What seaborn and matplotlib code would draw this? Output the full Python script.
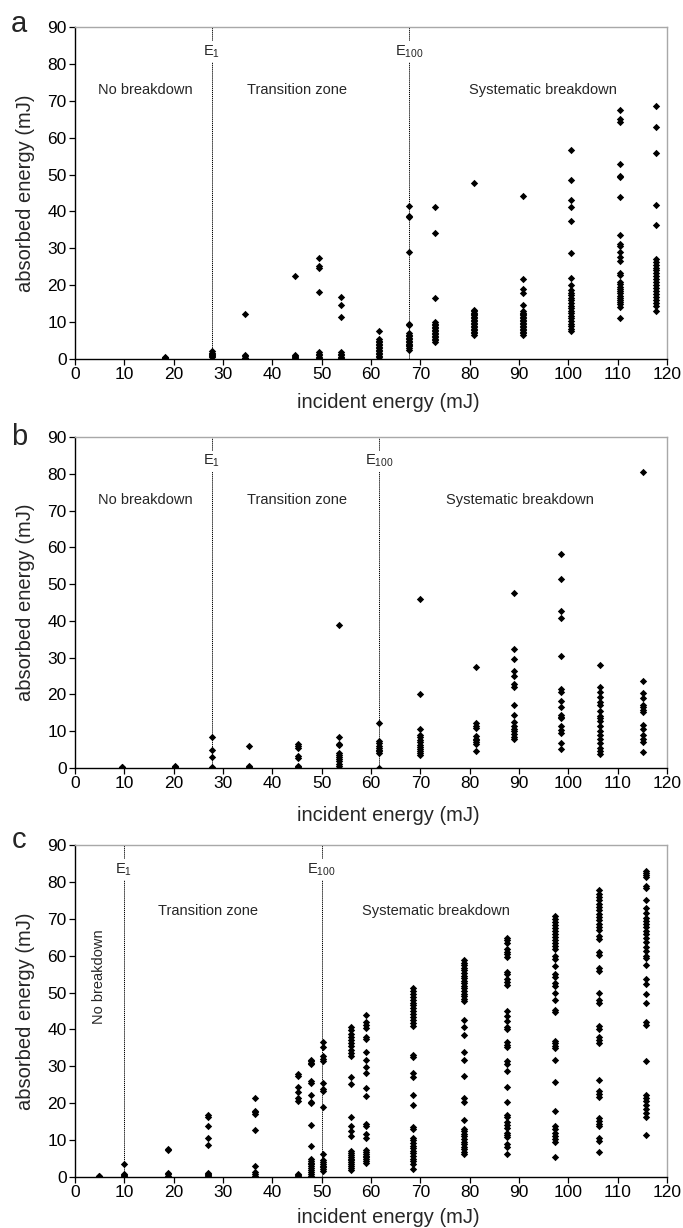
import matplotlib
matplotlib.use("Agg")
import matplotlib.pyplot as plt
import pandas as pd
import seaborn as sns

# ---------------- data ----------------
# Panel a
A_X = [18.3, 27.7, 34.5, 44.5, 49.5, 54.0, 61.7, 67.7, 73.0, 80.8, 90.8, 100.6, 110.4, 117.8]
A_Y = [
    [0.0, 0.2, 0.4, 0.6, 0.3],
    [0.5, 0.7, 1.0, 1.3, 1.7, 2.1],
    [12.2, 1.0, 0.7, 0.4, 0.2, 0.0],
    [22.4, 1.2, 0.9, 0.6, 0.3, 0.1],
    [27.3, 25.3, 24.6, 18.2, 1.8, 1.4, 1.0, 0.6, 0.3, 0.0],
    [16.9, 14.6, 11.3, 1.8, 1.4, 1.0, 0.6, 0.3, 0.0],
    [7.5, 5.3, 4.9, 4.5, 4.1, 3.7, 3.3, 2.9, 2.5, 2.1, 1.7, 1.3, 0.9, 0.5, 0.1],
    [41.5, 38.9, 38.5, 29.0, 9.6, 9.1, 7.0, 6.6, 6.2, 5.8, 5.4, 5.0, 4.6, 4.2, 3.8, 3.4, 3.0, 2.5],
    [41.2, 34.1, 16.6, 9.9, 9.5, 9.1, 8.7, 8.3, 7.9, 7.5, 7.1, 6.7, 6.3, 5.9, 5.5, 5.1, 4.7],
    [47.6, 13.4, 13.0, 12.6, 12.2, 11.8, 11.4, 11.0, 10.6, 10.2, 9.8, 9.4, 9.0, 8.6, 8.2, 7.8, 7.4, 7.0, 6.6],
    [44.3, 21.8, 18.9, 17.9, 14.6, 13.0, 12.6, 12.2, 11.8, 11.4, 11.0, 10.6, 10.2, 9.8, 9.4, 9.0, 8.6, 8.2,
     7.8, 7.4, 7.0, 6.6],
    [56.6, 48.5, 43.0, 41.2, 37.4, 28.7, 21.9, 20.0, 18.7, 18.0, 17.3, 16.6, 15.9, 15.2, 14.5, 13.8, 13.1,
     12.4, 11.7, 11.0, 10.3, 9.6, 8.9, 8.2, 7.6],
    [67.6, 65.0, 64.2, 52.9, 49.6, 49.3, 44.0, 33.7, 31.3, 30.6, 29.0, 27.6, 26.6, 23.2, 22.8, 20.8, 20.2,
     19.6, 19.0, 18.4, 17.8, 17.2, 16.6, 16.0, 15.4, 14.8, 14.2, 11.2],
    [68.7, 63.0, 55.8, 41.8, 36.4, 27.0, 26.4, 25.6, 24.8, 24.0, 23.2, 22.4, 21.6, 20.8, 20.0, 19.2, 18.4,
     17.6, 16.8, 16.0, 15.2, 14.4, 13.0],
]

# Panel b
B_X = [9.5, 20.3, 27.7, 35.2, 45.2, 53.6, 61.7, 70.0, 81.3, 89.0, 98.5, 106.5, 115.1]
B_Y = [
    [0.0, 0.2, 0.4],
    [0.0, 0.2, 0.4, 0.6],
    [8.3, 4.8, 3.1, 0.2, 0.0],
    [5.9, 0.6, 0.3, 0.1, 0.0],
    [6.6, 6.0, 5.4, 3.3, 2.6, 0.5, 0.2, 0.0],
    [38.8, 8.4, 6.5, 6.2, 4.0, 3.5, 3.0, 2.5, 2.0, 1.0, 0.5, 0.0],
    [12.1, 7.4, 6.8, 6.0, 5.5, 5.0, 4.5, 4.0, 0.0],
    [45.9, 20.2, 10.7, 9.0, 8.5, 7.7, 7.0, 6.3, 5.7, 5.2, 4.6, 4.0, 3.4],
    [27.5, 12.3, 11.5, 10.9, 8.7, 8.0, 7.5, 7.0, 6.5, 4.7],
    [47.5, 32.3, 29.6, 26.4, 25.0, 22.8, 22.0, 17.0, 14.3, 12.4, 11.5, 10.5, 10.0, 9.2, 8.5, 7.8],
    [58.1, 51.4, 42.8, 40.8, 30.4, 21.5, 20.7, 18.3, 16.5, 14.5, 14.0, 13.5, 11.5, 10.2, 9.5, 6.8, 5.2],
    [27.9, 22.0, 20.6, 19.4, 18.0, 17.2, 15.4, 14.2, 13.5, 12.8, 11.3, 10.0, 9.0, 8.0, 6.8, 5.5, 4.5, 3.8],
    [80.5, 23.7, 20.4, 19.0, 17.0, 16.5, 15.8, 15.2, 11.8, 10.5, 9.0, 8.0, 7.0, 4.3],
]

# Panel c
C_X = [4.8, 9.9, 18.9, 26.9, 36.5, 45.2, 47.8, 50.2, 56.0, 59.0, 68.6, 78.9, 87.5, 97.2, 106.3, 115.7]
C_Y = [
    [0.0, 0.2, 0.4],
    [3.5, 0.9, 0.6, 0.3, 0.0],
    [7.6, 7.2, 1.0, 0.7, 0.4, 0.1],
    [16.7, 16.3, 13.9, 10.6, 8.7, 1.1, 0.8, 0.5, 0.2],
    [21.4, 18.0, 17.6, 17.1, 12.7, 2.9, 1.3, 0.8, 0.4, 0.1],
    [27.8, 27.3, 24.3, 23.0, 21.4, 20.6, 0.9, 0.5, 0.2],
    [31.8, 31.4, 31.0, 30.6, 26.1, 25.5, 22.2, 20.3, 20.0, 14.2, 8.4, 4.9, 4.4, 3.9, 3.4, 2.9, 2.4, 1.9,
     1.4, 0.9, 0.4, 0.0],
    [36.7, 35.3, 32.7, 32.1, 31.5, 25.4, 23.9, 23.3, 19.0, 6.1, 4.6, 4.1, 3.6, 3.1, 2.6, 2.1, 1.6],
    [40.7, 39.8, 38.9, 38.0, 37.1, 36.2, 35.4, 34.5, 33.6, 32.7, 27.0, 25.1, 16.4, 13.8, 12.6, 11.0, 7.0,
     6.5, 6.0, 5.5, 5.0, 4.5, 4.0, 3.5, 3.0, 2.5, 2.0],
    [43.8, 42.1, 41.3, 40.5, 37.9, 37.4, 33.9, 31.6, 29.8, 28.2, 24.2, 22.0, 14.3, 13.8, 11.7, 10.5, 7.3,
     6.8, 6.3, 5.8, 5.3, 4.8, 4.3, 3.8],
    [51.3, 50.5, 49.7, 48.9, 48.1, 47.3, 46.5, 45.7, 44.9, 44.1, 43.3, 42.5, 41.7, 40.9, 33.0, 32.4, 28.2,
     27.2, 22.1, 19.5, 13.5, 13.0, 10.6, 9.9, 9.2, 8.5, 7.8, 7.1, 6.4, 5.7, 5.0, 4.3, 3.6, 2.2],
    [58.8, 58.1, 57.4, 56.7, 56.0, 55.3, 54.6, 53.9, 53.2, 52.5, 51.8, 51.1, 50.4, 49.7, 49.0, 48.3, 47.6,
     42.5, 40.6, 38.6, 33.8, 31.6, 27.3, 21.4, 20.4, 15.5, 13.1, 12.4, 11.7, 11.0, 10.3, 9.6, 8.9, 8.2,
     7.5, 6.8, 6.1],
    [64.9, 64.2, 63.5, 61.8, 61.1, 60.4, 59.7, 55.6, 55.0, 53.6, 52.8, 52.1, 44.9, 43.7, 42.4, 40.6, 40.0,
     36.5, 35.9, 35.3, 31.5, 30.6, 28.8, 24.3, 20.3, 16.9, 16.3, 14.8, 14.2, 13.4, 12.0, 11.4, 10.8, 9.0,
     8.2, 6.2],
    [70.7, 69.9, 69.1, 68.3, 67.5, 66.7, 65.9, 65.1, 64.3, 63.5, 62.7, 61.9, 59.8, 59.2, 57.2, 55.0, 54.3,
     52.6, 51.8, 49.8, 48.1, 45.3, 44.6, 37.0, 36.3, 35.6, 34.9, 31.6, 25.7, 17.8, 13.9, 13.1, 12.0, 11.2,
     10.4, 9.6, 5.4],
    [77.7, 76.8, 75.9, 75.0, 74.1, 73.2, 72.3, 71.4, 70.5, 69.6, 68.7, 67.8, 66.9, 65.2, 64.5, 61.0, 60.3,
     56.7, 55.8, 49.8, 48.0, 47.3, 41.0, 40.2, 38.0, 37.1, 36.2, 26.3, 23.3, 22.5, 21.8, 16.0, 15.2, 14.5,
     13.7, 10.5, 9.7, 6.8],
    [82.9, 82.4, 81.9, 81.4, 78.9, 78.4, 75.2, 72.8, 71.5, 70.3, 69.5, 68.7, 67.7, 66.8, 65.8, 64.8, 63.6,
     62.4, 61.2, 60.0, 59.4, 57.6, 53.6, 52.2, 49.6, 47.2, 42.0, 41.2, 31.5, 22.1, 21.3, 20.5, 19.5, 18.5,
     17.4, 16.3, 11.4],
]

# thresholds (E1, E100)
A_E = [27.7, 67.7]
B_E = [27.7, 61.7]
C_E = [9.9, 50.0]

PANEL_LETTERS = ["a", "b", "c"]
X_LABEL = "incident energy (mJ)"
Y_LABEL = "absorbed energy (mJ)"
ZONE_NAMES = ["No breakdown", "Transition zone", "Systematic breakdown"]
E_LABELS = [r"$\mathrm{E_{1}}$", r"$\mathrm{E_{100}}$"]


def to_frame(xs, ys):
    rows = [(x, y) for x, col in zip(xs, ys) for y in col]
    return pd.DataFrame(rows, columns=["incident", "absorbed"])


# ---------------- style ----------------
sns.set_theme(style="ticks")
plt.rcParams["font.family"] = ["Liberation Sans", "DejaVu Sans"]
plt.rcParams["mathtext.fontset"] = "custom"
plt.rcParams["mathtext.rm"] = "Liberation Sans"
plt.rcParams["mathtext.it"] = "Liberation Sans:italic"

fig = plt.figure(figsize=(6.83, 12.28), dpi=100)

W, H = 683.0, 1228.0
panels = [
    (A_X, A_Y, A_E, 27, 359, [(14.2, 72.8, 0), (45.0, 72.8, 0), (94.8, 72.8, 0)], 393, 32),
    (B_X, B_Y, B_E, 437, 768, [(14.2, 73.0, 0), (45.0, 73.0, 0), (90.2, 73.0, 0)], 806, 445),
    (C_X, C_Y, C_E, 845, 1177, [(4.9, 54.4, 90), (27.0, 72.0, 0), (73.2, 72.0, 0)], 1208, 848),
]

left_px, right_px = 75, 667
for i, (xs, ys, E, top, bot, zones, xl_top, letter_base) in enumerate(panels):
    ax = fig.add_axes([left_px / W, 1 - bot / H, (right_px - left_px) / W, (bot - top) / H])
    df = to_frame(xs, ys)
    sns.scatterplot(data=df, x="incident", y="absorbed", ax=ax, marker="D", s=14,
                    color="black", linewidth=0, zorder=3, legend=False)
    ax.set_xlim(0, 120)
    ax.set_ylim(0, 90)
    ax.set_xticks(range(0, 121, 10))
    ax.set_yticks(range(0, 91, 10))
    ax.tick_params(direction="out", length=4, width=0.9, labelsize=12.5, colors="black", pad=2)
    for s in ["left", "bottom"]:
        ax.spines[s].set_color("black")
        ax.spines[s].set_linewidth(1.0)
    for s in ["top", "right"]:
        ax.spines[s].set_color("#a8a8a8")
        ax.spines[s].set_linewidth(1.0)
    ax.set_xlabel(X_LABEL, fontsize=14.5)
    ax.set_ylabel(Y_LABEL, fontsize=14.5)
    ax.xaxis.set_label_coords(0.53, -(xl_top - bot) / (bot - top))
    ax.yaxis.set_label_coords(-40 / (right_px - left_px), 0.5)

    for e, lab in zip(E, E_LABELS):
        ax.axvline(e, color="black", lw=0.7, ls=(0, (1.2, 0.8)), zorder=1.5)
        ax.text(e, 83.4, lab, ha="center", va="center", fontsize=10.5, zorder=4,
                bbox=dict(facecolor="white", edgecolor="none", pad=1.5))
    for (zx, zy, rot), name in zip(zones, ZONE_NAMES):
        ax.text(zx, zy, name, ha="center", va="center", fontsize=10.5, rotation=rot, zorder=4)

    fig.text(19 / W, 1 - letter_base / H, PANEL_LETTERS[i], ha="center", va="baseline", fontsize=21)

fig.savefig("out.png", dpi=100)
